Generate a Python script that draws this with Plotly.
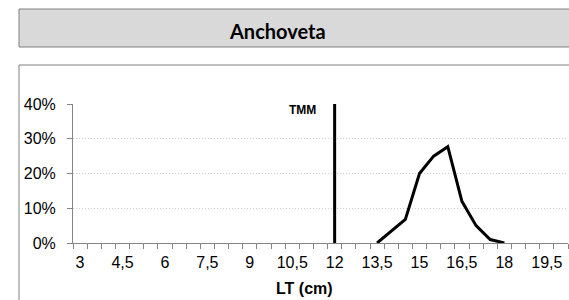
import plotly.graph_objects as go

# Data
talla_cm = [13.5, 14, 14.5, 15, 15.5, 16, 16.5, 17, 17.5, 18]
frecuencia_pct = [0, 3.4, 6.8, 20, 25, 27.7, 12, 5, 1, 0]
tmm_cm = 12
tick_vals = [3, 4.5, 6, 7.5, 9, 10.5, 12, 13.5, 15, 16.5, 18, 19.5]
tick_text = ["3", "4,5", "6", "7,5", "9", "10,5", "12", "13,5", "15", "16,5", "18", "19,5"]
y_ticks = [0, 0.1, 0.2, 0.3, 0.4]

W, H = 569, 300
ml, mr, mt, mb = 73, 1, 104, 57
pw, ph = W - ml - mr, H - mt - mb

def px(x):
    return (x - ml) / pw

def py(y):
    return (H - mb - y) / ph

fig = go.Figure()
fig.add_trace(go.Scatter(
    x=talla_cm, y=[v / 100 for v in frecuencia_pct], mode="lines",
    line=dict(color="black", width=3), showlegend=False, hoverinfo="skip"))
fig.add_trace(go.Scatter(
    x=[tmm_cm, tmm_cm], y=[0, 0.4], mode="lines",
    line=dict(color="black", width=3), showlegend=False, hoverinfo="skip"))

axis_col = "#868686"
fig.update_layout(
    width=W, height=H,
    margin=dict(l=ml, r=mr, t=mt, b=mb),
    paper_bgcolor="white", plot_bgcolor="white",
    font=dict(family="Liberation Sans, Arial", size=16, color="black"),
    xaxis=dict(
        range=[2.75, 20.25], tickmode="array", tickvals=tick_vals, ticktext=tick_text,
        ticks="", showgrid=False, zeroline=False, showline=True, linecolor=axis_col,
        linewidth=1, tickfont=dict(size=16), ticklabelstandoff=5,
        minor=dict(ticks="outside", ticklen=5, tickcolor=axis_col, tick0=2.75, dtick=0.5, showgrid=False),
    ),
    yaxis=dict(
        range=[0, 0.4], tickmode="array", tickvals=y_ticks, tickformat=".0%",
        ticks="outside", ticklen=5, tickcolor=axis_col, showline=True, linecolor=axis_col,
        linewidth=1, showgrid=True, gridcolor="#cfcfcf", griddash="1px,2px", gridwidth=1,
        zeroline=False, tickfont=dict(size=16), ticklabelstandoff=8,
    ),
    shapes=[
        dict(type="rect", xref="paper", yref="paper", x0=px(19), x1=px(575), y0=py(47), y1=py(9),
             fillcolor="#d9d9d9", line=dict(color="#808080", width=1), layer="below"),
        dict(type="rect", xref="paper", yref="paper", x0=px(19), x1=px(575), y0=py(310), y1=py(65),
             fillcolor="rgba(0,0,0,0)", line=dict(color="#808080", width=1), layer="below"),
    ],
    annotations=[
        dict(text="<b>Anchoveta</b>", xref="paper", yref="paper", x=px(277), y=py(31),
             showarrow=False, xanchor="center", yanchor="middle",
             font=dict(family="Lato, Open Sans", size=20, color="black")),
        dict(text="<b>TMM</b>", xref="paper", yref="paper", x=px(302), y=py(110),
             showarrow=False, xanchor="center", yanchor="middle",
             font=dict(family="Liberation Sans, Arial", size=12, color="black")),
        dict(text="<b>LT (cm)</b>", xref="paper", yref="paper", x=px(304), y=py(288),
             showarrow=False, xanchor="center", yanchor="middle",
             font=dict(family="Liberation Sans, Arial", size=16, color="black")),
    ],
)

fig.write_html("out.html", config={"displayModeBar": False})

# remove default browser body margin so the figure sits at the page's top-left
with open("out.html", "r", encoding="utf-8") as f:
    html = f.read()
html = html.replace("<head>", "<head><style>html,body{margin:0;padding:0;overflow:hidden;}</style>", 1)
with open("out.html", "w", encoding="utf-8") as f:
    f.write(html)
